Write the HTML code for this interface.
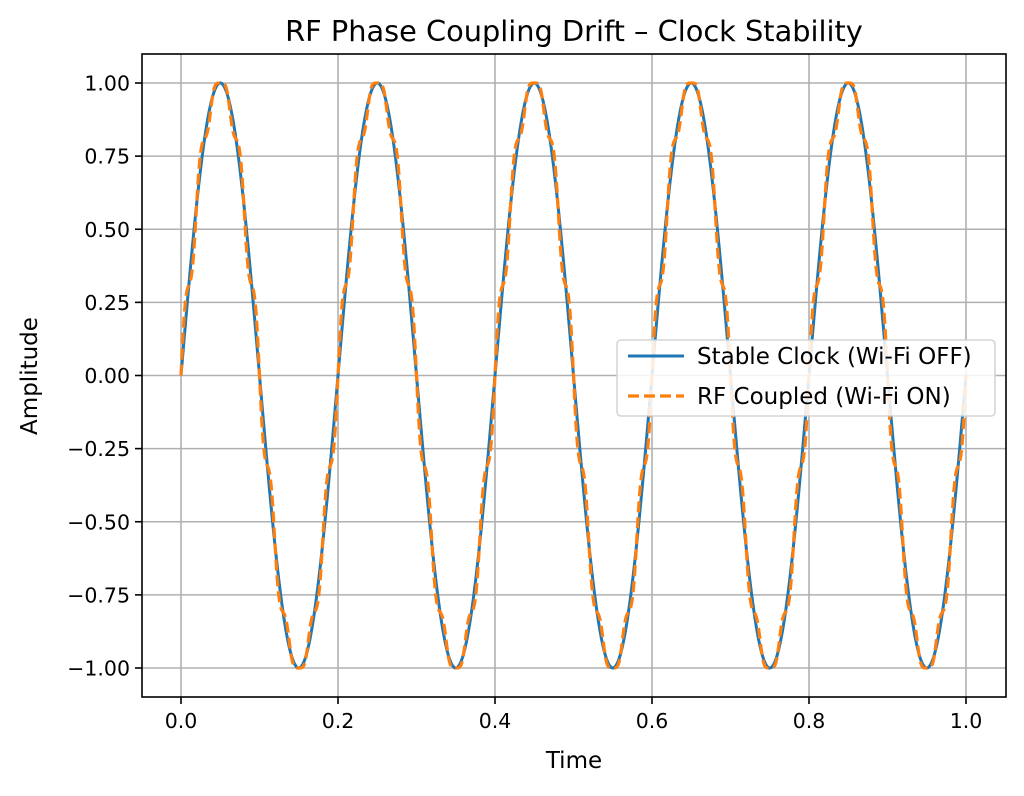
<!DOCTYPE html>
<html><head><meta charset="utf-8"><style>
body{margin:0;background:#fff;}
svg text{font-family:"DejaVu Sans","Liberation Sans",sans-serif;fill:#000;}
</style></head><body>
<svg id="s" width="1024" height="791" xmlns="http://www.w3.org/2000/svg">
<rect width="1024" height="791" fill="#fff"/>
<g id="grid" stroke="#b0b0b0" stroke-width="1.6"></g>
<polyline id="blue" fill="none" stroke="#1f77b4" stroke-width="3"/>
<polyline id="orange" fill="none" stroke="#ff7f0e" stroke-width="3.2" stroke-dasharray="11,5"/>
<rect x="142" y="54" width="864" height="643" fill="none" stroke="#000" stroke-width="1.6"/>
<g id="ticks" stroke="#000" stroke-width="1.6"></g>
<g id="labels" font-size="20.5"></g>
<text x="574" y="41" font-size="28.8" text-anchor="middle">RF Phase Coupling Drift – Clock Stability</text>
<text x="574" y="768" font-size="23" text-anchor="middle">Time</text>
<text x="0" y="0" font-size="23" text-anchor="middle" transform="translate(37,376) rotate(-90)">Amplitude</text>
<rect x="617" y="340" width="378" height="76" rx="4" fill="#fff" fill-opacity="0.85" stroke="#ccc" stroke-width="1.3"/>
<line x1="628" y1="356" x2="684" y2="356" stroke="#1f77b4" stroke-width="3"/>
<line x1="628" y1="396" x2="684" y2="396" stroke="#ff7f0e" stroke-width="3.2" stroke-dasharray="11,5"/>
<text x="697" y="364" font-size="23">Stable Clock (Wi-Fi OFF)</text>
<text x="697" y="404" font-size="23">RF Coupled (Wi-Fi ON)</text>
</svg>
<script>
var X=function(t){return 181+t*785},Y=function(v){return 375.5-v*292.5};
var b=[],o=[];
for(var i=0;i<=2000;i++){var t=i/2000;var s=Math.sin(2*Math.PI*5*t);
b.push(X(t).toFixed(2)+","+Y(s).toFixed(2));
o.push(X(t).toFixed(2)+","+Y(Math.sin(2*Math.PI*5*t+0.08*Math.sin(2*Math.PI*50*t))).toFixed(2));}
document.getElementById("blue").setAttribute("points",b.join(" "));
document.getElementById("orange").setAttribute("points",o.join(" "));
var g="",tk="",lb="";
for(var k=0;k<=5;k++){var x=X(k*0.2);g+='<line x1="'+x+'" y1="54" x2="'+x+'" y2="697"/>';
tk+='<line x1="'+x+'" y1="697" x2="'+x+'" y2="704"/>';
lb+='<text x="'+x+'" y="728" text-anchor="middle">'+(k*0.2).toFixed(1)+'</text>';}
for(var k=-4;k<=4;k++){var v=k*0.25,y=Y(v);g+='<line x1="142" y1="'+y+'" x2="1006" y2="'+y+'"/>';
tk+='<line x1="135" y1="'+y+'" x2="142" y2="'+y+'"/>';
lb+='<text x="130" y="'+(y+7.5)+'" text-anchor="end">'+(v<0?'\u2212':'')+Math.abs(v).toFixed(2)+'</text>';}
document.getElementById("grid").innerHTML=g;
document.getElementById("ticks").innerHTML=tk;
document.getElementById("labels").innerHTML=lb;
</script>
</body></html>
